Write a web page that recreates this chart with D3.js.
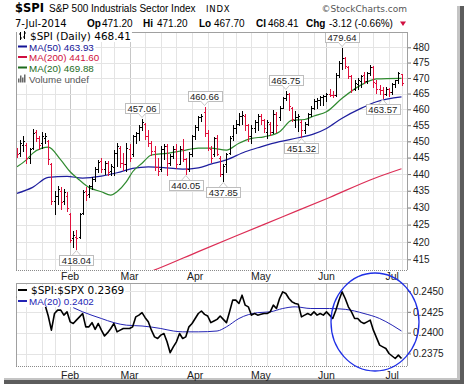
<!DOCTYPE html>
<html>
<head>
<meta charset="utf-8">
<script src="https://cdn.jsdelivr.net/npm/d3@7"></script>
<style>
  body { margin: 0; background: #fff; }
  svg { display: block; }
</style>
</head>
<body>
<script>
// trading calendar of the chart
const startDay = "2014-01-08";
const endDay = "2014-07-07";
const holidays = ["2014-01-20", "2014-02-17", "2014-04-18", "2014-05-26", "2014-07-04"];

// $SPI daily bars, one entry per trading day
const opens = [447.5,446.3,449.0,449.0,445.0,448.0,453.0,451.0,449.5,451.0,450.0,443.0,432.0,433.5,435.0,432.0,433.5,428.0,421.0,421.5,
  421.5,428.5,434.8,434.0,436.5,438.5,441.5,444.0,441.5,443.5,441.0,442.0,446.5,448.0,443.5,443.0,447.5,446.0,451.5,452.5,
  454.5,455.5,451.5,449.5,447.0,442.0,441.5,447.5,448.5,443.5,445.5,447.5,443.0,447.5,444.5,441.5,446.0,451.5,454.5,457.5,
  459.0,452.5,447.5,446.0,451.0,445.0,440.0,443.0,446.5,451.5,454.0,455.5,458.0,458.0,455.0,451.5,454.0,456.0,458.0,456.5,
  453.0,455.5,453.0,458.5,457.5,460.5,463.5,465.0,460.5,456.5,457.5,456.0,453.5,455.5,458.5,460.5,462.5,463.0,463.8,464.2,
  465.0,464.6,464.5,471.0,475.0,476.5,473.5,470.5,466.5,468.0,469.0,471.0,469.0,471.5,473.5,468.5,466.5,466.0,465.0,466.5,
  465.5,468.0,469.2,471.20];
const highs = [448.0,450.5,451.5,449.5,448.0,453.8,453.5,451.5,453.0,452.5,450.5,443.5,435.0,436.5,436.0,435.5,434.5,428.5,423.0,423.5,
  428.5,435.3,436.0,436.8,439.0,442.0,444.3,445.0,444.0,444.0,443.0,447.3,449.4,448.5,446.4,449.4,449.3,452.0,453.0,455.0,
  457.06,455.8,453.5,450.0,448.5,444.8,448.5,449.3,449.3,446.0,448.5,449.3,448.5,450.6,444.8,446.6,452.0,455.0,457.8,458.4,
  460.66,453.5,448.5,451.4,452.0,445.5,443.0,446.5,451.5,455.0,456.5,458.8,459.4,458.5,455.5,455.0,456.5,458.6,458.5,457.0,
  456.5,456.0,459.8,459.0,461.0,464.0,465.75,465.2,460.6,459.4,458.5,456.6,456.0,458.9,461.0,463.3,463.5,464.3,464.7,465.3,
  466.4,465.8,471.6,475.5,479.64,476.8,474.0,471.0,469.4,470.0,471.0,472.0,472.0,474.2,474.0,469.4,467.8,467.0,467.0,466.8,
  468.5,469.5,472.0,471.20];
const lows = [445.3,445.5,447.0,443.5,443.5,447.5,450.0,447.5,448.0,449.5,443.0,431.0,428.0,431.0,429.5,431.0,429.0,420.0,418.6,418.04,
  421.0,428.2,432.3,433.2,435.5,437.8,440.5,440.5,440.0,439.7,439.7,439.8,442.5,442.0,441.2,441.0,443.9,445.5,449.5,450.4,
  453.5,450.6,448.5,445.8,441.2,439.7,441.0,444.5,439.7,442.8,444.8,441.7,443.0,443.9,440.05,441.0,445.5,450.6,453.5,456.3,
  451.5,447.3,443.8,445.5,445.8,439.3,437.85,440.7,446.0,450.5,452.5,455.0,455.5,453.5,450.0,449.5,453.0,453.5,455.5,453.0,
  451.0,452.0,452.5,453.0,456.5,460.5,463.0,459.9,456.3,454.3,453.2,451.32,452.5,455.0,457.8,460.0,460.5,461.5,461.5,462.7,
  464.3,464.0,464.2,470.4,473.0,473.1,469.9,465.5,466.0,466.5,467.0,468.3,468.5,471.0,467.1,465.1,465.0,463.57,464.5,464.3,
  465.0,467.0,468.5,467.70];
const closes = [446.0,449.5,450.0,445.0,447.5,452.5,451.0,449.0,451.5,451.8,444.5,432.0,433.5,435.5,431.5,434.5,430.0,420.5,422.0,421.0,
  428.0,434.5,433.8,436.5,438.5,441.5,443.8,441.5,443.5,440.5,442.5,446.5,448.5,443.5,443.0,448.0,445.0,451.5,452.5,454.5,
  456.0,451.5,449.5,447.0,442.0,441.0,447.5,448.5,443.5,445.5,447.5,443.0,447.5,444.5,441.5,446.0,451.5,454.5,457.5,458.0,
  452.5,448.0,445.0,451.0,446.0,440.0,442.5,446.0,451.0,454.0,455.5,458.0,458.3,455.0,451.5,454.0,456.0,458.0,456.5,454.0,
  456.0,453.0,458.5,455.0,460.5,463.5,465.0,461.0,456.8,457.5,458.0,453.5,455.5,458.5,460.5,462.5,463.0,463.8,464.2,465.0,
  464.6,464.4,471.0,475.0,476.5,474.0,470.5,466.0,468.5,469.5,470.5,469.0,471.5,473.5,468.8,466.5,466.0,465.0,466.5,465.5,
  468.0,469.2,471.53,468.41];

// moving averages (trading-day index, value)
const ma50Idx = [0, 5, 10, 16, 21, 27, 32, 37, 42, 48, 53, 58, 62, 67, 73, 78, 84, 90, 95, 99, 104, 110, 115, 123];
const ma50Val = [434.2, 436.0, 439.0, 439.3, 438.8, 439.4, 440.4, 441.7, 442.2, 441.9, 441.5, 441.9, 443.0, 444.3, 446.8, 448.3, 449.9, 451.1, 452.3, 454.0, 457.2, 460.3, 462.4, 463.93];
const ma20Idx = [0, 3, 5, 8, 10, 14, 17, 20, 23, 27, 30, 32, 35, 37, 40, 43, 48, 53, 58, 62, 67, 71, 75, 79, 84, 88, 92, 95, 99, 104, 110, 115, 123];
const ma20Val = [442.2, 444.3, 446.3, 447.9, 448.2, 444.3, 440.7, 438.2, 436.0, 434.7, 433.7, 434.7, 437.7, 440.7, 443.3, 445.8, 446.3, 447.1, 447.9, 447.9, 447.3, 449.4, 450.9, 451.4, 453.0, 456.6, 456.8, 457.9, 459.2, 463.5, 467.7, 469.7, 469.88];
const ma200Idx = [40, 45, 58, 70, 85, 100, 114, 123];
const ma200Val = [410.6, 412.3, 417.2, 421.7, 427.3, 433.0, 438.6, 441.6];

// $SPI:$SPX ratio, one per trading day
const ratio = [0.2442,0.2445,0.2440,0.2443,0.2438,0.2441,0.2444,0.2439,0.2436,0.2433,0.2420,0.2403,0.2423,0.2427,0.2427,0.2421,0.2425,0.2413,0.2411,0.2415,
  0.2419,0.2423,0.2407,0.2407,0.2412,0.2404,0.2411,0.2403,0.2396,0.2400,0.2405,0.2411,0.2401,0.2403,0.2405,0.2405,0.2405,0.2407,0.2419,0.2421,
  0.2424,0.2418,0.2413,0.2403,0.2395,0.2393,0.2397,0.2399,0.2389,0.2376,0.2383,0.2389,0.2399,0.2393,0.2395,0.2407,0.2411,0.2417,0.2423,0.2426,
  0.2422,0.2420,0.2412,0.2414,0.2416,0.2420,0.2416,0.2412,0.2425,0.2439,0.2439,0.2435,0.2445,0.2433,0.2431,0.2421,0.2423,0.2421,0.2422,0.2423,
  0.2423,0.2425,0.2433,0.2429,0.2441,0.2449,0.2447,0.2441,0.2437,0.2435,0.2434,0.2419,0.2421,0.2423,0.2421,0.2425,0.2421,0.2423,0.2421,0.2425,
  0.2421,0.2417,0.2427,0.2439,0.2449,0.2441,0.2431,0.2425,0.2417,0.2417,0.2413,0.2411,0.2413,0.2415,0.2403,0.2394,0.2385,0.2383,0.2381,0.2375,
  0.2372,0.2369,0.2373,0.2369];
const ratioMaIdx = [18, 21, 27, 31, 35, 40, 46, 50, 53, 58, 64, 67, 71, 77, 81, 85, 89, 94, 100, 105, 111, 116, 120, 123];
const ratioMaVal = [0.2430, 0.2425, 0.2417, 0.2412, 0.2409, 0.2408, 0.2405, 0.2402, 0.2401, 0.2401, 0.2402, 0.2407, 0.2417, 0.2424, 0.2425, 0.2429, 0.2431, 0.2429, 0.2429, 0.2428, 0.2423, 0.2417, 0.2409, 0.2402];

// tick labels
const priceTicks = [480, 475, 470, 465, 460, 455, 450, 445, 440, 435, 430, 425, 420, 415];
const ratioTicks = [0.2450, 0.2425, 0.2400, 0.2375];

// high / low callouts
const noteIdx = [19, 40, 54, 60, 66, 86, 91, 104, 117];
const noteVal = [418.04, 457.06, 440.05, 460.66, 437.85, 465.75, 451.32, 479.64, 463.57];
const noteSide = ["lo", "hi", "lo", "hi", "lo", "hi", "lo", "hi", "lo"];

const fmtDay = d3.utcFormat("%Y-%m-%d");
const days = d3.utcDay.range(d3.utcParse("%Y-%m-%d")(startDay), d3.utcDay.offset(d3.utcParse("%Y-%m-%d")(endDay), 1))
  .filter(d => d.getUTCDay() !== 0 && d.getUTCDay() !== 6 && !holidays.includes(fmtDay(d)));

const W = 464, H = 387;
const L = 16, R = 407, T1 = 32, B1 = 270, T2 = 283, B2 = 366;
const SANS = "'Liberation Sans', Arial, sans-serif";
const VERD = "'DejaVu Sans', Verdana, sans-serif";

const svg = d3.select("body").append("svg").attr("width", W).attr("height", H)
  .style("font-family", SANS);

// page and its drop shadow
svg.append("rect").attr("width", W).attr("height", H).attr("fill", "#fff");
svg.append("rect").attr("x", 457).attr("y", 6).attr("width", 3).attr("height", 376).attr("fill", "#c4c4c4");
svg.append("rect").attr("x", 460).attr("y", 6).attr("width", 4).attr("height", 378).attr("fill", "#5c5c5c");
svg.append("rect").attr("x", 4).attr("y", 378).attr("width", 456).attr("height", 2).attr("fill", "#c4c4c4");
svg.append("rect").attr("x", 4).attr("y", 380).attr("width", 460).attr("height", 4).attr("fill", "#5c5c5c");

const x = d3.scaleLinear().domain([0, days.length - 1]).range([17, 401.5]);
const y = d3.scaleLog().domain([411.96, 485.07]).range([B1, T1]);
const yr = d3.scaleLinear().domain([0.2360, 0.24596]).range([B2, T2]);
const px = i => Math.round(x(i));

const weekStarts = d3.range(1, days.length).filter(i => days[i].getUTCDay() < days[i - 1].getUTCDay());
const monthStarts = d3.range(1, days.length).filter(i => days[i].getUTCMonth() !== days[i - 1].getUTCMonth());

// grids
[[T1, B1], [T2, B2]].forEach(([t, b]) => {
  svg.append("g").selectAll("line").data(weekStarts).join("line")
    .attr("x1", i => px(i) + 0.5).attr("x2", i => px(i) + 0.5)
    .attr("y1", t).attr("y2", b)
    .attr("stroke", i => monthStarts.includes(i) ? "#c6c6c6" : "#e4e4e4");
});
svg.append("g").selectAll("line").data(priceTicks).join("line")
  .attr("x1", L).attr("x2", R)
  .attr("y1", d => Math.round(y(d)) + 0.5).attr("y2", d => Math.round(y(d)) + 0.5)
  .attr("stroke", "#e4e4e4");
svg.append("g").selectAll("line").data(ratioTicks).join("line")
  .attr("x1", L).attr("x2", R)
  .attr("y1", d => Math.round(yr(d)) + 0.5).attr("y2", d => Math.round(yr(d)) + 0.5)
  .attr("stroke", "#e4e4e4");

// clips
const defs = svg.append("defs");
defs.append("clipPath").attr("id", "c1").append("rect").attr("x", L).attr("y", T1).attr("width", R - L).attr("height", B1 - T1);
defs.append("clipPath").attr("id", "c2").append("rect").attr("x", L).attr("y", T2).attr("width", R - L).attr("height", B2 - T2);

// moving averages, main panel
const maLine = d3.line().x(d => x(d[0])).y(d => y(d[1])).curve(d3.curveMonotoneX);
const g1 = svg.append("g").attr("clip-path", "url(#c1)");
[[ma200Idx, ma200Val, "#dc2d55"], [ma50Idx, ma50Val, "#1e1e9e"], [ma20Idx, ma20Val, "#2f8a2f"]].forEach(([ix, v, c]) => {
  g1.append("path").datum(ix.map((d, k) => [d, v[k]]))
    .attr("fill", "none").attr("stroke", c).attr("stroke-width", 1.2).attr("d", maLine);
});

// OHLC bars
const barColor = i => (closes[i] < (i ? closes[i - 1] : opens[i])) ? "#e0103c" : "#000";
const bars = g1.append("g").selectAll("g").data(d3.range(days.length)).join("g").attr("fill", barColor);
bars.append("rect").attr("x", i => px(i)).attr("width", 1)
  .attr("y", i => Math.round(y(highs[i])))
  .attr("height", i => Math.max(1, Math.round(y(lows[i])) - Math.round(y(highs[i])) + 1));
bars.append("rect").attr("x", i => px(i) - 1).attr("width", 1).attr("height", 1)
  .attr("y", i => Math.round(y(opens[i])));
bars.append("rect").attr("x", i => px(i) + 1).attr("width", 1).attr("height", 1)
  .attr("y", i => Math.round(y(closes[i])));

// callouts
noteIdx.forEach((ix, k) => {
  const cx = x(ix), vy = Math.round(y(noteVal[k]));
  const g = svg.append("g");
  const t = g.append("text").attr("x", cx).attr("text-anchor", "middle")
    .attr("font-size", 9.5).attr("fill", "#222").text(noteVal[k].toFixed(2));
  const bw = t.node().getComputedTextLength() + 5, bh = 10;
  const top = noteSide[k] === "hi" ? vy - 6 - bh : vy + 6;
  t.attr("y", top + 8.5);
  g.insert("rect", "text").attr("x", Math.round(cx - bw / 2) + 0.5).attr("y", top + 0.5)
    .attr("width", Math.round(bw)).attr("height", bh).attr("fill", "#fff").attr("stroke", "#bdbdbd");
  const tipY = noteSide[k] === "hi" ? top + bh : top;
  const dir = noteSide[k] === "hi" ? 1 : -1;
  g.append("path").attr("d", `M${cx - 4},${tipY} L${cx},${tipY + dir * 4.5} L${cx + 4},${tipY}`)
    .attr("fill", "#fff").attr("stroke", "#c8c8c8");
});

// panel frames
const frame = (t, b) => {
  svg.append("line").attr("x1", L + 0.5).attr("x2", L + 0.5).attr("y1", t).attr("y2", b).attr("stroke", "#a0a0a0");
  svg.append("line").attr("x1", R + 0.5).attr("x2", R + 0.5).attr("y1", t).attr("y2", b).attr("stroke", "#a0a0a0");
  svg.append("line").attr("x1", L).attr("x2", R + 1).attr("y1", t + 0.5).attr("y2", t + 0.5).attr("stroke", "#a0a0a0");
  svg.append("line").attr("x1", L).attr("x2", R + 1).attr("y1", b + 0.5).attr("y2", b + 0.5)
    .attr("stroke", "#8a8a8a").attr("stroke-dasharray", "1,1");
};
frame(T1, B1);
frame(T2, B2);

// right axes
const styleAxis = g => {
  g.select(".domain").remove();
  g.selectAll(".tick line").attr("stroke", "#777");
  g.selectAll(".tick text").attr("fill", "#222").attr("font-size", 10).attr("font-family", SANS);
};
svg.append("g").attr("transform", `translate(${R + 1},0)`)
  .call(d3.axisRight(y).tickValues(priceTicks).tickSize(3).tickPadding(2).tickFormat(d3.format("d")))
  .call(styleAxis);
svg.append("g").attr("transform", `translate(${R + 1},0)`)
  .call(d3.axisRight(yr).tickValues(ratioTicks).tickSize(3).tickPadding(2).tickFormat(d3.format(".4f")))
  .call(styleAxis);

// month labels
const monthFmt = d3.utcFormat("%b");
[B1 + 9.5, B2 + 12.5].forEach(base => {
  svg.append("g").selectAll("text").data(monthStarts).join("text")
    .attr("x", i => x(i)).attr("y", base).attr("text-anchor", "middle")
    .attr("font-size", 10.5).attr("fill", "#222").text(i => monthFmt(days[i]));
});

// ratio panel lines
const g2 = svg.append("g").attr("clip-path", "url(#c2)");
g2.append("path").datum(ratioMaIdx.map((d, k) => [d, ratioMaVal[k]]))
  .attr("fill", "none").attr("stroke", "#2424b4").attr("stroke-width", 1)
  .attr("d", d3.line().x(d => x(d[0])).y(d => yr(d[1])).curve(d3.curveMonotoneX));
g2.append("path").datum(ratio)
  .attr("fill", "none").attr("stroke", "#000").attr("stroke-width", 1.6).attr("stroke-linejoin", "round")
  .attr("d", d3.line().x((d, i) => x(i)).y(d => yr(d)));

// legends
const legendRow = (gx, gy, label, color, font, size, mark) => {
  const g = svg.append("g");
  const t = g.append("text").attr("x", gx).attr("y", gy).attr("fill", color)
    .attr("font-family", font).attr("font-size", size).text(label);
  const bb = t.node().getBBox();
  g.insert("rect", "text").attr("x", L + 1).attr("y", gy - 9).attr("width", bb.x + bb.width - L)
    .attr("height", 11).attr("fill", "#fff");
  if (mark === "dash") {
    g.append("rect").attr("x", 18).attr("y", gy - 5).attr("width", 9).attr("height", 2).attr("fill", color);
  } else if (mark === "ohlc") {
    g.append("path").attr("d", `M20.5,${gy - 8} V${gy} M19,${gy - 6}H20.5 M20.5,${gy - 2}H22 M24.5,${gy - 9} V${gy - 1} M23,${gy - 3}H24.5 M24.5,${gy - 7}H26`)
      .attr("stroke", "#000").attr("fill", "none");
  } else if (mark === "vol") {
    [[18, 4], [20, 7], [22, 5], [24, 8]].forEach(([bx, bh]) =>
      g.append("rect").attr("x", bx).attr("y", gy - bh).attr("width", 1.5).attr("height", bh).attr("fill", "#666"));
  }
};
legendRow(30, 40, "$SPI (Daily) 468.41", "#000", VERD, 10.5, "ohlc");
legendRow(29, 50.5, "MA(50) 463.93", "#141496", SANS, 9.8, "dash");
legendRow(29, 61, "MA(200) 441.60", "#d01040", SANS, 9.8, "dash");
legendRow(29, 71.5, "MA(20) 469.88", "#1d6b1d", SANS, 9.8, "dash");
legendRow(29, 82.5, "Volume undef", "#555", SANS, 9.8, "vol");
legendRow(31, 294, "$SPI:$SPX 0.2369", "#000", VERD, 10.5, "dash");
legendRow(29, 305, "MA(20) 0.2402", "#2424b4", SANS, 9.8, "dash");

// header
const hd = svg.append("g");
hd.append("text").attr("x", 15).attr("y", 12).attr("font-family", VERD).attr("font-weight", "bold")
  .attr("font-size", 11.5).text("$SPI");
hd.append("text").attr("x", 49).attr("y", 12).attr("font-size", 10).text("S&P 500 Industrials Sector Index");
hd.append("text").attr("x", 206).attr("y", 12).attr("font-family", VERD).attr("font-size", 8.5)
  .attr("letter-spacing", 0.8).text("INDX");
hd.append("text").attr("x", 407).attr("y", 12).attr("text-anchor", "end").attr("font-family", VERD)
  .attr("font-size", 9).attr("fill", "#555").text("©StockCharts.com");
hd.append("text").attr("x", 15).attr("y", 27).attr("font-family", VERD).attr("font-size", 10).text("7-Jul-2014");
const quote = [["Op", 87, true], ["471.20", 102], ["Hi", 143, true], ["471.20", 157], ["Lo", 199, true], ["467.70", 214],
  ["Cl", 256, true], ["468.41", 268], ["Chg", 306, true], ["-3.12 (-0.66%)", 329]];
quote.forEach(([s, qx, b]) => {
  hd.append("text").attr("x", qx).attr("y", 27).attr("font-size", 10)
    .attr("font-weight", b ? "bold" : "normal").text(s);
});
hd.append("path").attr("d", "M400,21.5 L406,21.5 L403,26 Z").attr("fill", "#d01040");

// annotation circle
svg.append("ellipse").attr("cx", 375).attr("cy", 322).attr("rx", 44).attr("ry", 49)
  .attr("fill", "none").attr("stroke", "#1f2fe6").attr("stroke-width", 1.3);
</script>
</body>
</html>
